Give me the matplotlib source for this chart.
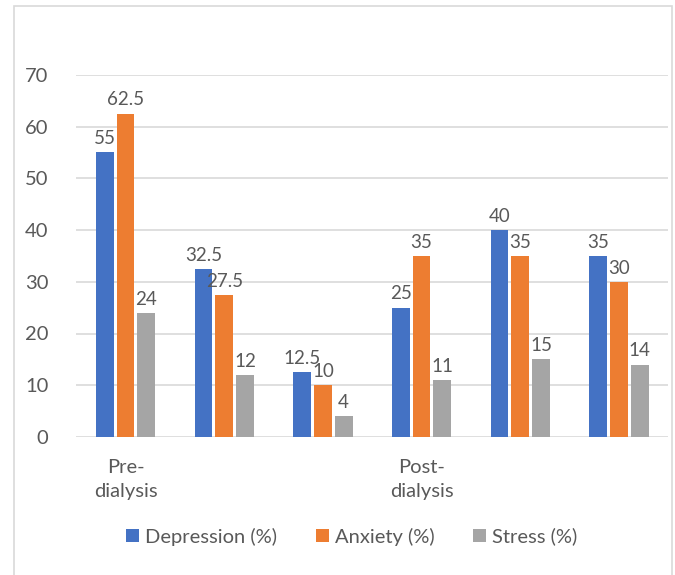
import matplotlib.pyplot as plt
from matplotlib.patches import Rectangle
import numpy as np

plt.rcParams['font.family'] = ['Lato', 'DejaVu Sans']

categories = ["Pre-\ndialysis", "", "", "Post-\ndialysis", "", ""]
depression = [55, 32.5, 12.5, 25, 40, 35]
anxiety = [62.5, 27.5, 10, 35, 35, 30]
stress = [24, 12, 4, 11, 15, 14]
series_names = ["Depression (%)", "Anxiety (%)", "Stress (%)"]
colors = ["#4472C4", "#ED7D31", "#A5A5A5"]
text_color = "#595959"
fs = 14.5

fig = plt.figure(figsize=(6.75, 5.75), dpi=100)
ax = fig.add_axes([0.113, 0.24, 0.877, 0.63])

x = np.arange(len(categories))
w = 0.18
gap = 0.03
for k, vals in enumerate([depression, anxiety, stress]):
    pos = x + (k - 1) * (w + gap)
    bars = ax.bar(pos, vals, width=w, color=colors[k], label=series_names[k], zorder=3)
    for b, v in zip(bars, vals):
        ax.text(b.get_x() + b.get_width() / 2, v + 1.0, f"{v:g}",
                ha="center", va="bottom", fontsize=13.5, color=text_color, zorder=4)

ax.set_xlim(-0.5, len(categories) - 0.5)
ax.set_ylim(0, 70)
ax.set_yticks(range(0, 71, 10))
ax.set_xticks(x)
ax.set_xticklabels(categories, fontsize=fs, color=text_color, linespacing=1.45)
ax.tick_params(axis="y", labelsize=fs, labelcolor=text_color, length=0, pad=20)
ax.tick_params(axis="x", length=0, pad=16)
ax.grid(axis="y", color="#D9D9D9", linewidth=1.2, zorder=0)
for s in ax.spines.values():
    s.set_visible(False)

ax.legend(loc="upper center", bbox_to_anchor=(0.465, -0.2), ncol=3, frameon=False,
          fontsize=fs, labelcolor=text_color, handlelength=0.65, handleheight=0.65,
          handletextpad=0.3, columnspacing=1.9)

# outer chart border
fig.patches.append(Rectangle((0.02, -0.01), 0.975, 1.0, transform=fig.transFigure,
                             fill=False, edgecolor="#D9D9D9", linewidth=1.2))

fig.savefig("out.png", dpi=100)
